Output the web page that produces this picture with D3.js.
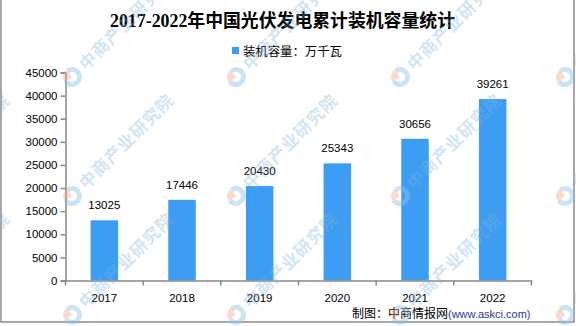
<!DOCTYPE html>
<html>
<head>
<meta charset="utf-8">
<script src="https://cdn.jsdelivr.net/npm/d3@7"></script>
<style>
  html, body { margin: 0; padding: 0; background: #fff; }
  svg { display: block; }
</style>
</head>
<body>
<svg id="chart" width="576" height="326"></svg>
<script>
// Cumulative installed PV capacity in China, 10k kW
const years = ["2017", "2018", "2019", "2020", "2021", "2022"];
const capacity = [13025, 17446, 20430, 25343, 30656, 39261];
const yTicks = [0, 5000, 10000, 15000, 20000, 25000, 30000, 35000, 40000, 45000];

const titleText = "2017-2022年中国光伏发电累计装机容量统计";
const legendText = "装机容量：万千瓦";
const sourceLabel = "制图：中商情报网";
const sourceUrl = "(www.askci.com)";
const watermarkText = "中商产业研究院";

const W = 576, H = 326;
const svg = d3.select("#chart");
const numFont = "'Liberation Sans', Arial, sans-serif";
const cjkFont = "'Noto Sans CJK SC', 'Liberation Sans', sans-serif";

// frame
svg.append("rect")
  .attr("x", 1).attr("y", -2).attr("width", 573).attr("height", 324)
  .attr("fill", "#fff").attr("stroke", "#8a8a8a").attr("stroke-width", 1.5);

const x = d3.scaleBand().domain(years).range([65.5, 531.5])
  .paddingInner(0.646).paddingOuter(0.323);
const y = d3.scaleLinear().domain([0, 45000]).range([280.5, 72.5]);

// title
svg.append("text")
  .attr("x", 110).attr("y", 27)
  .attr("textLength", 345).attr("lengthAdjust", "spacingAndGlyphs")
  .attr("font-family", "'Liberation Serif', 'Noto Sans CJK SC', serif")
  .attr("font-weight", "bold").attr("font-size", 18).attr("fill", "#000")
  .text(titleText);

// legend
svg.append("rect").attr("x", 232).attr("y", 47).attr("width", 7).attr("height", 7)
  .attr("fill", "#3d9df2");
svg.append("text")
  .attr("x", 243).attr("y", 55.5)
  .attr("textLength", 99).attr("lengthAdjust", "spacingAndGlyphs")
  .attr("font-family", cjkFont).attr("font-size", 12.5).attr("fill", "#000")
  .text(legendText);

// y axis
const yAxis = svg.append("g").attr("transform", "translate(65.5,0)")
  .call(d3.axisLeft(y).tickValues(yTicks).tickSize(5).tickPadding(3).tickFormat(d3.format("d")));
yAxis.select(".domain").attr("stroke", "#888").attr("stroke-width", 1.5);
yAxis.selectAll(".tick line").attr("stroke", "#888").attr("stroke-width", 1.5);
yAxis.selectAll("text").attr("font-family", numFont).attr("font-size", 11.5).attr("fill", "#000");

// bars
svg.append("g").selectAll("rect").data(capacity).join("rect")
  .attr("x", (d, i) => x(years[i]))
  .attr("y", d => y(d))
  .attr("width", x.bandwidth())
  .attr("height", d => y(0) - y(d))
  .attr("fill", "#3d9df2");

// value labels
svg.append("g").selectAll("text").data(capacity).join("text")
  .attr("x", (d, i) => x(years[i]) + x.bandwidth() / 2)
  .attr("y", d => y(d) - 11)
  .attr("text-anchor", "middle")
  .attr("font-family", numFont).attr("font-size", 11.5).attr("fill", "#000")
  .text(d => d);

// x axis
const xAxis = svg.append("g").attr("transform", "translate(0,280.5)")
  .call(d3.axisBottom(x).tickSize(0).tickPadding(13));
xAxis.select(".domain").attr("stroke", "#888").attr("stroke-width", 1.5);
xAxis.selectAll("text").attr("font-family", numFont).attr("font-size", 11.5).attr("fill", "#000");
// boundary ticks between categories
const edges = years.map(c => x(c) - x.step() * x.paddingInner() / 2);
edges[0] = 65.5;
edges.push(531.5);
xAxis.selectAll("line.edge").data(edges).join("line").attr("class", "edge")
  .attr("x1", d => d).attr("x2", d => d).attr("y1", 0).attr("y2", 5)
  .attr("stroke", "#888").attr("stroke-width", 1.5);

// source line
const src = svg.append("text").attr("x", 352).attr("y", 318)
  .attr("font-family", cjkFont).attr("font-size", 12);
src.append("tspan").attr("fill", "#000").text(sourceLabel);
src.append("tspan").attr("fill", "#1e3c8c").attr("font-family", numFont)
  .attr("font-size", 11).text(sourceUrl);

// watermark pattern
const wm = svg.append("g").attr("pointer-events", "none");
const colsX = [-92, 72, 236, 400, 565];
const rowsY = [-42, 77, 196, 315];
rowsY.forEach((ry, j) => {
  colsX.forEach(cx => {
    const g = wm.append("g").attr("transform", `translate(${cx},${ry}) rotate(-45)`);
    g.append("path")
      .attr("d", d3.arc()({innerRadius: 5, outerRadius: 10, startAngle: Math.PI * 0.05, endAngle: Math.PI * 1.55}))
      .attr("fill", "#8ec0e6").attr("opacity", 0.45);
    g.append("path")
      .attr("d", d3.arc()({innerRadius: 0, outerRadius: 9, startAngle: -Math.PI * 0.45, endAngle: Math.PI * 0.05}))
      .attr("fill", "#f2a288").attr("opacity", 0.4);
    g.append("text").attr("x", 14).attr("y", 6)
      .attr("font-family", cjkFont).attr("font-weight", "bold").attr("font-size", 17)
      .attr("letter-spacing", 1)
      .attr("fill", "#7fb4de").attr("opacity", 0.35)
      .text(watermarkText);
  });
});
</script>
</body>
</html>
